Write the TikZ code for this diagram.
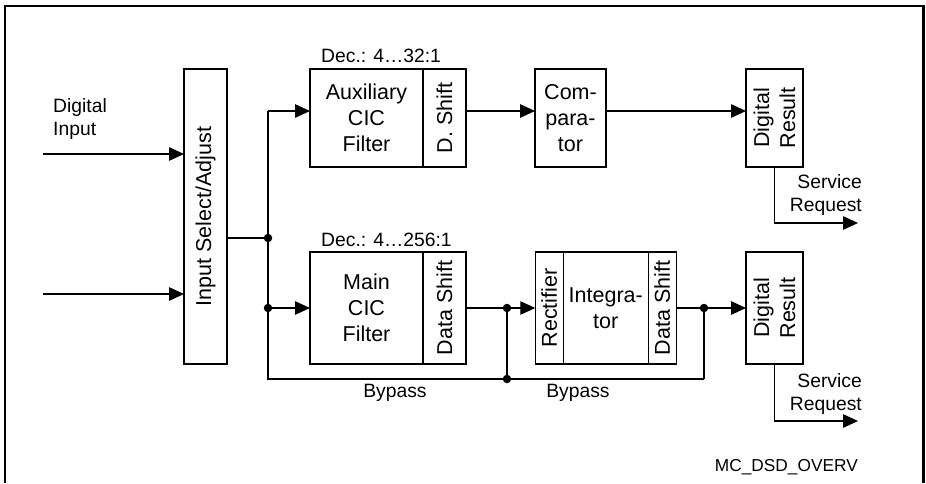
\documentclass[tikz,border=0pt]{standalone}
\usepackage{fontspec}
\setmainfont{Liberation Sans}
\usetikzlibrary{arrows.meta}
\tikzset{
  blk/.style={draw, line width=1.3pt, inner sep=0pt, outer sep=0pt},
  btxt/.style={font=\fontsize{21.5}{26}\selectfont, align=center, inner sep=0pt},
  rtxt/.style={btxt, rotate=90},
  lbl/.style={font=\fontsize{19.3}{23}\selectfont, inner sep=0pt},
  wire/.style={line width=1.3pt},
  arr/.style={wire, -{Triangle[length=15pt,width=13.5pt]}},
  dot/.style={circle, fill=black, inner sep=0pt, minimum size=8.5pt},
}
\begin{document}
\begin{tikzpicture}[x=1pt,y=-1pt]
\useasboundingbox (0,0) rectangle (926,483);
\draw[line width=2.2pt] (5,483) -- (5,6) -- (923.5,6) -- (923.5,483);

% boxes
\node[blk, minimum width=43pt, minimum height=295pt] (inbox) at (205.5,216.5) {};
\node[rtxt] (inboxt) at (inbox.center) {Input Select/Adjust};

\node[blk, minimum width=113pt, minimum height=98pt] (aux) at (366.5,118) {};
\node[btxt] (auxt) at (aux.center) {Auxiliary\\CIC\\Filter};
\node[blk, minimum width=43pt, minimum height=98pt] (ads) at (444.5,118) {};
\node[rtxt] (adst) at (ads.center) {D. Shift};

\node[blk, minimum width=71pt, minimum height=98pt] (comp) at (570.5,118) {};
\node[btxt] (compt) at (comp.center) {Com-\\para-\\tor};

\node[blk, minimum width=57pt, minimum height=98pt] (dr1) at (774.5,118) {};
\node[rtxt] (dr1t) at (dr1.center) {Digital\\Result};

\node[blk, minimum width=113pt, minimum height=112pt] (main) at (366.5,308) {};
\node[btxt] (maint) at (main.center) {Main\\CIC\\Filter};
\node[blk, minimum width=43pt, minimum height=112pt] (mds) at (444.5,308) {};
\node[rtxt] (mdst) at (mds.center) {Data Shift};

\node[blk, minimum width=28pt, minimum height=112pt] (rect) at (549.25,308) {};
\node[rtxt] (rectt) at (rect.center) {Rectifier};
\node[blk, minimum width=85pt, minimum height=112pt] (integ) at (605.75,308) {};
\node[btxt] (integt) at (integ.center) {Integra-\\tor};
\node[blk, minimum width=28pt, minimum height=112pt] (ids) at (662.25,308) {};
\node[rtxt] (idst) at (ids.center) {Data Shift};

\node[blk, minimum width=57pt, minimum height=112pt] (dr2) at (774.5,308) {};
\node[rtxt] (dr2t) at (dr2.center) {Digital\\Result};

% labels
\node[lbl, align=left, anchor=west] (din) at (53,119) {Digital\\Input};
\node[lbl, anchor=base west] (dec1) at (321,62) {Dec.: 4…32:1};
\node[lbl, anchor=base west] (dec2) at (321,246) {Dec.: 4…256:1};
\node[lbl, align=right, anchor=east] (sr1) at (862,195) {Service\\Request};
\node[lbl, align=right, anchor=east] (sr2) at (862,394) {Service\\Request};
\node[lbl] (bp1) at (395,393) {Bypass};
\node[lbl] (bp2) at (578,393) {Bypass};
\node[font=\fontsize{17.3}{20}\selectfont, inner sep=0pt, anchor=east] (mc) at (858,467) {MC\_DSD\_OVERV};

% coordinates
\coordinate (in1) at (43,154);
\coordinate (in2) at (43,294);
\coordinate (j1) at (268,238);
\coordinate (ta) at (268,111);
\coordinate (jm) at (268,308);
\coordinate (tb) at (268,379);
\coordinate (j2) at (507,308);
\coordinate (bj2) at (507,379);
\coordinate (j3) at (704,308);
\coordinate (bj3) at (704,379);
\coordinate (r1) at (0,111);
\coordinate (s1) at (774.5,223);
\coordinate (s1e) at (858,223);
\coordinate (s2) at (774.5,421);
\coordinate (s2e) at (858,421);

% connectors
\draw[arr] (in1) -- (inbox.west |- in1);
\draw[arr] (in2) -- (inbox.west |- in2);
\draw[wire] (inbox.east |- j1) -- (j1);
\draw[wire] (bj3) -- (tb) -- (ta);
\draw[wire] (j3) -- (bj3);
\draw[wire] (j2) -- (bj2);
\draw[arr] (ta) -- (aux.west |- ta);
\draw[arr] (jm) -- (main.west);
\draw[arr] (ads.east |- r1) -- (comp.west |- r1);
\draw[arr] (comp.east |- r1) -- (dr1.west |- r1);
\draw[arr] (mds.east) -- (rect.west);
\draw[arr] (ids.east) -- (dr2.west);
\draw[arr] (dr1.south) -- (s1) -- (s1e);
\draw[arr] (dr2.south) -- (s2) -- (s2e);

\node[dot] (d1) at (j1) {};
\node[dot] (d2) at (jm) {};
\node[dot] (d3) at (j2) {};
\node[dot] (d4) at (bj2) {};
\node[dot] (d5) at (j3) {};
\end{tikzpicture}
\end{document}
